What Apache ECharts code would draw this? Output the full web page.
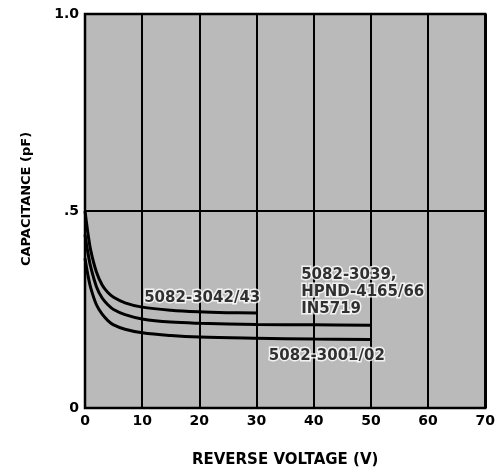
<!DOCTYPE html>
<html>
<head>
<meta charset="utf-8">
<script src="https://cdn.jsdelivr.net/npm/echarts@6/dist/echarts.min.js"></script>
<style>
html,body{margin:0;padding:0;background:#fff;}
#chart{width:498px;height:475px;}
</style>
</head>
<body>
<div id="chart"></div>
<script>
// Reverse voltage (V) and capacitance (pF)
const voltsA = [0, 0.5, 1, 2, 3, 4, 5, 7, 10, 15, 20, 25, 30];
const capA   = [0.50, 0.445, 0.40, 0.345, 0.312, 0.293, 0.281, 0.267, 0.256, 0.248, 0.244, 0.242, 0.241];

const voltsB = [0, 0.5, 1, 2, 3, 4, 5, 7, 10, 15, 20, 30, 40, 50];
const capB   = [0.44, 0.395, 0.358, 0.308, 0.279, 0.262, 0.250, 0.237, 0.226, 0.218, 0.215, 0.212, 0.211, 0.210];

const voltsC = [0, 0.5, 1, 2, 3, 4, 5, 7, 10, 15, 20, 30, 40, 50];
const capC   = [0.38, 0.338, 0.305, 0.262, 0.238, 0.222, 0.211, 0.200, 0.191, 0.184, 0.180, 0.177, 0.175, 0.174];

const seriesNames = ['5082-3042/43', '5082-3039, HPND-4165/66, IN5719', '5082-3001/02'];

// Curve annotations: [voltage, capacitance, text]
const noteText  = ['5082-3042/43', '5082-3039,\nHPND-4165/66\nIN5719', '5082-3001/02'];
const noteV     = [20.5, 37.8, 42.3];
const noteC     = [0.279, 0.295, 0.132];
const noteAlign = ['center', 'left', 'center'];

const xTicks = [0, 10, 20, 30, 40, 50, 60, 70];
const yTickLabels = {'0': '0', '0.5': '.5', '1': '1.0'};

const zip = (xs, ys) => xs.map((x, i) => [x, ys[i]]);

const chart = echarts.init(document.getElementById('chart'), null, {renderer: 'canvas'});
const FONT = '"DejaVu Sans", Arial, sans-serif';

const lineStyle = {color: '#000', width: 3};
const mk = (name, data) => ({
  name, type: 'line', data, smooth: 0.35, symbol: 'none',
  lineStyle, z: 5
});

chart.setOption({
  animation: false,
  backgroundColor: '#fff',
  grid: {left: 85, right: 11, top: 14, bottom: 67, show: true,
         backgroundColor: '#bababa', borderColor: '#000', borderWidth: 2.5},
  xAxis: {
    type: 'value', min: 0, max: 70, interval: 10,
    axisLine: {show: false}, axisTick: {show: false},
    axisLabel: {color: '#000', fontFamily: FONT, fontWeight: 'bold', fontSize: 14, margin: 6,
                formatter: v => xTicks.includes(v) ? String(v) : ''},
    splitLine: {show: true, lineStyle: {color: '#000', width: 2}},
    name: 'REVERSE VOLTAGE (V)', nameLocation: 'middle', nameGap: 45,
    nameTextStyle: {color: '#000', fontFamily: FONT, fontWeight: 'bold', fontSize: 15}
  },
  yAxis: {
    type: 'value', min: 0, max: 1, interval: 0.5,
    axisLine: {show: false}, axisTick: {show: false},
    axisLabel: {color: '#000', fontFamily: FONT, fontWeight: 'bold', fontSize: 14, margin: 6,
                formatter: v => yTickLabels[String(v)] || ''},
    splitLine: {show: true, lineStyle: {color: '#000', width: 2}},
    name: 'CAPACITANCE (pF)', nameLocation: 'middle', nameGap: 52,
    nameTextStyle: {color: '#000', fontFamily: FONT, fontWeight: 'bold', fontSize: 13,
                    padding: [0, 0, 0, 24]}
  },
  series: [
    mk(seriesNames[0], zip(voltsA, capA)),
    mk(seriesNames[1], zip(voltsB, capB)),
    mk(seriesNames[2], zip(voltsC, capC)),
    {
      type: 'scatter', symbolSize: 0, z: 10,
      data: noteText.map((t, i) => ({value: [noteV[i], noteC[i]], text: t,
                                     label: {align: noteAlign[i]}})),
      label: {show: true, position: 'inside', formatter: p => p.data.text,
              color: '#000', fontFamily: FONT, fontWeight: 'bold', fontSize: 15, lineHeight: 17,
              textBorderColor: '#fff', textBorderWidth: 3}
    }
  ]
});
</script>
</body>
</html>
